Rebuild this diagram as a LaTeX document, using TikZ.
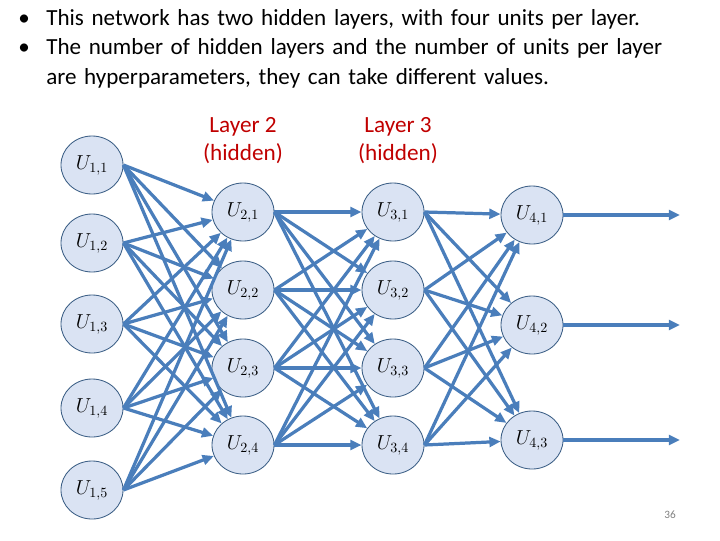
\documentclass[tikz,border=0pt]{standalone}
\usepackage{fontspec}
\setmainfont{Carlito}
\usetikzlibrary{arrows.meta,shapes.geometric}
\definecolor{unitfill}{HTML}{DAE3F3}
\definecolor{unitline}{HTML}{3B5E85}
\definecolor{linkblue}{HTML}{4A7EBB}
\definecolor{labelred}{HTML}{C00000}
\begin{document}
\begin{tikzpicture}[x=0.025cm, y=-0.025cm,
  unit/.style={draw=unitline, fill=unitfill, ellipse, minimum width=1.55cm, minimum height=1.45cm, inner sep=0pt, font=\Large, line width=0.6pt},
  link/.style={draw=linkblue, line width=2.3pt, -{Triangle[length=8pt,width=7pt]}},
  layer/.style={text=labelred, font=\fontsize{16.5}{20}\selectfont, align=center}]
\useasboundingbox (0,0) rectangle (720,540);
% Bullets
\node[anchor=north west, text width=17cm, font=\fontsize{16.4}{21}\selectfont, align=left, inner sep=0pt] (bullets) at (18,9)
 {\makebox[0.7cm][l]{\textbullet}This network has two hidden layers, with four units per layer.\\
  \makebox[0.7cm][l]{\textbullet}The number of hidden layers and the number of units per layer\\
  \hspace*{0.7cm}are hyperparameters, they can take different values.};
% Layer labels
\node[layer] (lab2) at (243,141) {Layer 2\\(hidden)};
\node[layer] (lab3) at (398,141) {Layer 3\\(hidden)};
% Units
\foreach \i/\y in {1/165,2/243,3/324,4/408,5/490}
  \node[unit] (u1\i) at (92,\y) {$U_{1,\i}$};
\foreach \i/\y in {1/212,2/290,3/368,4/445} {
  \node[unit] (u2\i) at (243,\y) {$U_{2,\i}$};
  \node[unit] (u3\i) at (393,\y) {$U_{3,\i}$};
}
\foreach \i/\y in {1/215,2/325,3/440}
  \node[unit] (u4\i) at (532,\y) {$U_{4,\i}$};
% Outputs
\foreach \i/\y in {1/215,2/325,3/440}
  \coordinate (o\i) at (680,\y);
% Links
\foreach \s in {1,...,5}
  \foreach \t in {1,...,4}
    \draw[link] (u1\s.east) -- (u2\t);
\foreach \s in {1,...,4}
  \foreach \t in {1,...,4}
    \draw[link] (u2\s.east) -- (u3\t);
\foreach \s in {1,...,4}
  \foreach \t in {1,...,3}
    \draw[link] (u3\s.east) -- (u4\t);
\foreach \i in {1,2,3}
  \draw[link] (u4\i.east) -- (o\i);
% Page number
\node[text=gray, font=\footnotesize] (page) at (670,515) {36};
\end{tikzpicture}
\end{document}
